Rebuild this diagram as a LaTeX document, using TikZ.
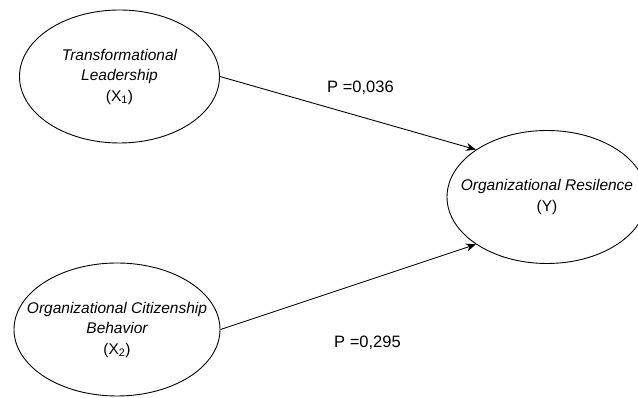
\documentclass[tikz,border=0pt]{standalone}
\usepackage{fontspec}
\setmainfont{Liberation Sans}
\usetikzlibrary{shapes.geometric, arrows.meta}

\tikzset{
    latent/.style={draw, ellipse, line width=0.9pt, minimum width=200pt, minimum height=133pt,
        inner xsep=-50pt, inner ysep=0pt, align=center,
        font=\fontsize{15.5}{20.5}\selectfont\itshape},
    coef/.style={font=\fontsize{16.5}{20}\selectfont},
    effect/.style={-{Stealth[length=10pt, width=8pt]}, line width=0.9pt},
}

\begin{document}
\begin{tikzpicture}[x=1pt, y=1pt]
    \useasboundingbox (0,0) rectangle (638,398);
    \clip (0,0) rectangle (638,398);

    % constructs
    \node[latent] (tl) at (119.5,321.5) {Transformational\\Leadership\\\upshape(X\textsubscript{1})};
    \node[latent, minimum width=206pt] (ocb) at (117,68.5) {Organizational Citizenship\\Behavior\\\upshape(X\textsubscript{2})};
    \node[latent] (res) at (547,201) {Organizational Resilence\\\upshape(Y)};

    % paths
    \draw[effect] (tl.east) -- (res.north west);
    \draw[effect] (ocb.east) -- (res.south west);
    \node[coef] (p1) at (360.5,310) {P =0,036};
    \node[coef] (p2) at (367.5,55) {P =0,295};
\end{tikzpicture}
\end{document}
